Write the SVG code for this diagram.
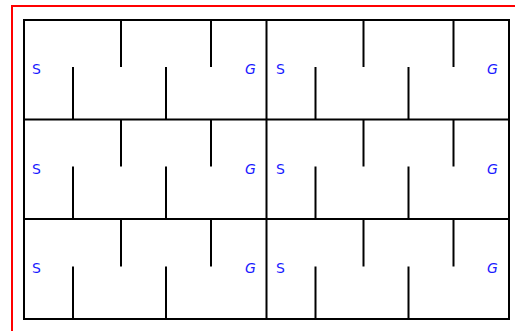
<svg xmlns="http://www.w3.org/2000/svg" width="515" height="331" viewBox="0 0 515 331">
<style>
.wall{stroke:#000;stroke-width:2;fill:none;stroke-linecap:butt}
.lbl{font-family:"DejaVu Sans","Liberation Sans",sans-serif;font-size:14px;fill:#1a1aff}
</style>
<rect x="0" y="0" width="515" height="331" fill="#fff"/>
<rect x="12" y="6" width="520" height="340" fill="none" stroke="#ff0000" stroke-width="2"/>
<g id="frame">
<rect class="wall" x="24" y="20" width="485" height="299"/>
<line class="wall" x1="266.5" y1="20" x2="266.5" y2="319"/>
<line class="wall" x1="24" y1="119.5" x2="509" y2="119.5"/>
<line class="wall" x1="24" y1="219" x2="509" y2="219"/>
</g>
<g id="walls">
<path class="wall" d="M121 20V67M211 20V67M73 67V119.5M166 67V119.5M363.5 20V67M453.5 20V67M315.5 67V119.5M408.5 67V119.5"/>
<path class="wall" d="M121 119.5V166.5M211 119.5V166.5M73 166.5V219M166 166.5V219M363.5 119.5V166.5M453.5 119.5V166.5M315.5 166.5V219M408.5 166.5V219"/>
<path class="wall" d="M121 219V266.5M211 219V266.5M73 266.5V319M166 266.5V319M363.5 219V266.5M453.5 219V266.5M315.5 266.5V319M408.5 266.5V319"/>
</g>
<g id="labels">
<text class="lbl" x="32" y="74">S</text>
<text class="lbl" x="245" y="74" font-style="italic">G</text>
<text class="lbl" x="276" y="74">S</text>
<text class="lbl" x="487" y="74" font-style="italic">G</text>
<text class="lbl" x="32" y="173.5">S</text>
<text class="lbl" x="245" y="173.5" font-style="italic">G</text>
<text class="lbl" x="276" y="173.5">S</text>
<text class="lbl" x="487" y="173.5" font-style="italic">G</text>
<text class="lbl" x="32" y="273">S</text>
<text class="lbl" x="245" y="273" font-style="italic">G</text>
<text class="lbl" x="276" y="273">S</text>
<text class="lbl" x="487" y="273" font-style="italic">G</text>
</g>
</svg>
